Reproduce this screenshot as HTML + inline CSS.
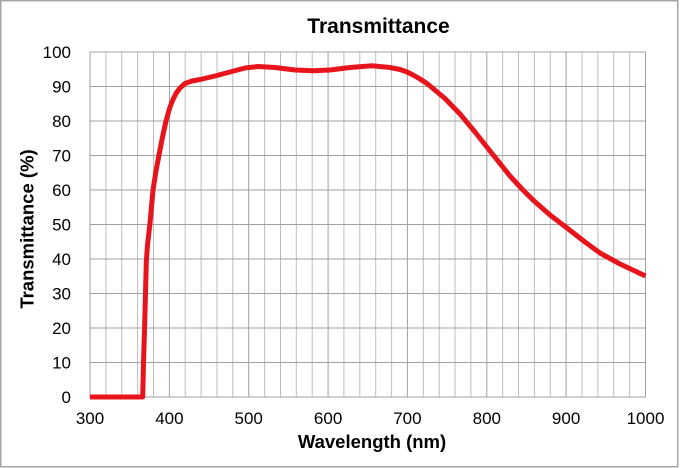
<!DOCTYPE html>
<html><head><meta charset="utf-8"><style>
html,body{margin:0;padding:0;background:#fff;}
svg{display:block;}
text{font-family:"Liberation Sans",Arial,sans-serif;fill:#000;}
</style></head><body>
<svg width="680" height="468" viewBox="0 0 680 468" xmlns="http://www.w3.org/2000/svg">
<rect x="0" y="0" width="680" height="468" fill="#fff"/>
<rect x="0.75" y="0.75" width="677" height="466" fill="none" stroke="#a6a6a6" stroke-width="1.5"/>
<g stroke="#bdbdbd" stroke-width="1" fill="none">
<path d="M105.9 52V397M121.7 52V397M137.6 52V397M153.5 52V397M185.2 52V397M201.1 52V397M217 52V397M232.8 52V397M264.6 52V397M280.5 52V397M296.3 52V397M312.2 52V397M343.9 52V397M359.8 52V397M375.7 52V397M391.6 52V397M423.3 52V397M439.2 52V397M455 52V397M470.9 52V397M502.6 52V397M518.5 52V397M534.4 52V397M550.3 52V397M582 52V397M597.9 52V397M613.7 52V397M629.6 52V397"/>
</g>
<g stroke="#a0a0a0" stroke-width="1" fill="none">
<path d="M169.4 52V397M248.7 52V397M328.1 52V397M407.4 52V397M486.8 52V397M566.1 52V397"/>
<path d="M90 362.5H645.5M90 328H645.5M90 293.5H645.5M90 259H645.5M90 224.5H645.5M90 190H645.5M90 155.5H645.5M90 121H645.5M90 86.5H645.5"/>
<rect x="90" y="52" width="555.5" height="345"/>
</g>
<polyline fill="none" stroke="#e8141c" stroke-width="5" stroke-linejoin="round" stroke-linecap="butt"
points="90,397 142.7,397 143.5,363 144.8,320 146.3,262 147.5,245 150,223 153,190 156,171 159,155 162.5,137 166,121 170,107 173,99.5 176,93.5 180,88 185,83.5 192,81 200,79.5 215,76 230,72 245,68 258,66.5 275,67.5 295,70 313,70.8 330,70 350,67.5 372,65.8 390,67.5 400,69.5 407,72 414,75.5 420,79 427,83.5 433,88.5 445,98.5 460,114 475,132 490,151 510,176 522,189 533,200 550,215 567,228 585,242 600,253 620,264 645.5,276"/>
<text x="378.5" y="33" font-size="21" font-weight="bold" text-anchor="middle">Transmittance</text>
<g font-size="17" text-anchor="end">
<text x="71" y="403">0</text>
<text x="71" y="368.5">10</text>
<text x="71" y="334">20</text>
<text x="71" y="299.5">30</text>
<text x="71" y="265">40</text>
<text x="71" y="230.5">50</text>
<text x="71" y="196">60</text>
<text x="71" y="161.5">70</text>
<text x="71" y="127">80</text>
<text x="71" y="92.5">90</text>
<text x="71" y="58">100</text>
</g>
<g font-size="17" text-anchor="middle">
<text x="90" y="424">300</text>
<text x="169.4" y="424">400</text>
<text x="248.7" y="424">500</text>
<text x="328.1" y="424">600</text>
<text x="407.4" y="424">700</text>
<text x="486.8" y="424">800</text>
<text x="566.1" y="424">900</text>
<text x="645.5" y="424">1000</text>
</g>
<text x="372" y="448" font-size="18.5" font-weight="bold" text-anchor="middle">Wavelength (nm)</text>
<text transform="translate(33.5,229) rotate(-90)" font-size="18.5" font-weight="bold" text-anchor="middle">Transmittance (%)</text>
</svg>
</body></html>
